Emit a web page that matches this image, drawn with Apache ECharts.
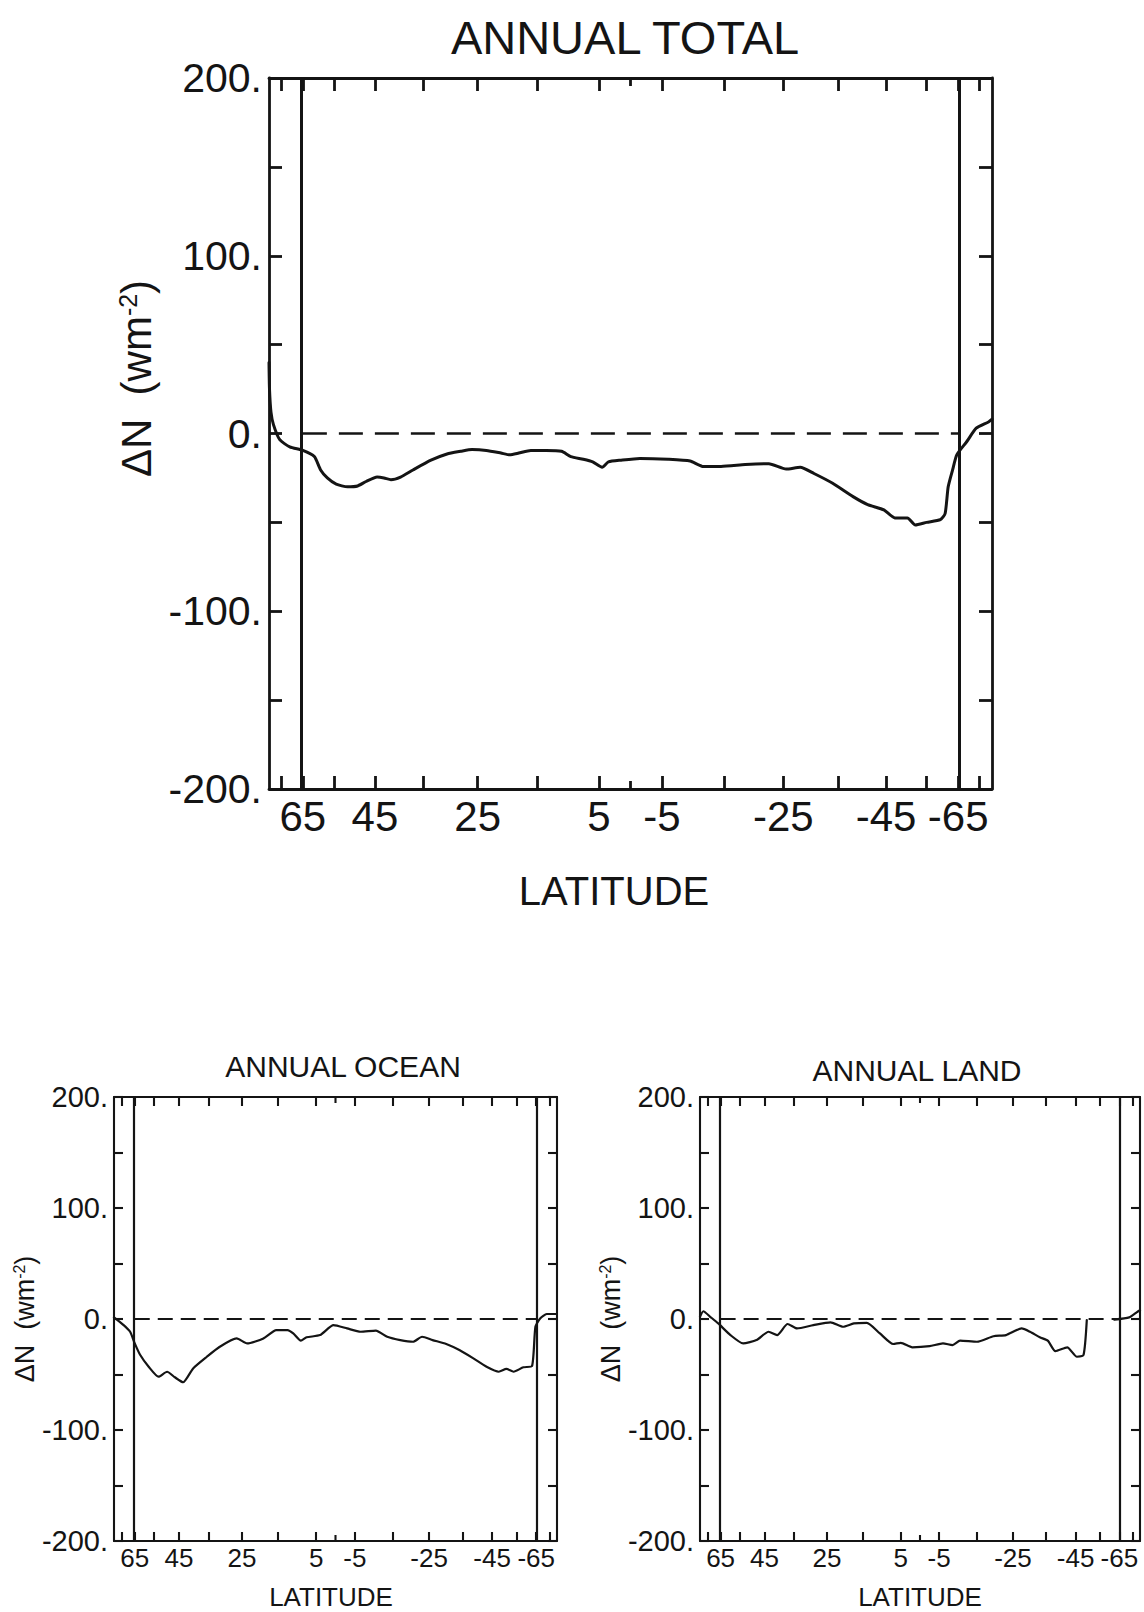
<!DOCTYPE html>
<html>
<head>
<meta charset="utf-8">
<script src="https://cdn.jsdelivr.net/npm/echarts@6/dist/echarts.min.js"></script>
<style>
  html, body { margin: 0; padding: 0; background: #ffffff; }
  #chart { width: 1144px; height: 1612px; }
</style>
</head>
<body>
<div id="chart"></div>
<script>
// Zonal-mean change in net radiation, ΔN (W m-2), plotted against latitude
// on an area-weighted (sine of latitude) axis.

const TOTAL_LAT = [90, 87, 84, 81, 76, 70.5, 65, 61, 59, 57,
  54.5, 51.5, 49, 47, 44.5, 43, 41.5, 39.5, 37, 33.5,
  30.5, 28, 26, 23.5, 21, 19.5, 18, 16, 13.5, 11,
  9.5, 7.5, 6, 4.5, 3.5, 1.5, -1.5, -6, -9.5, -11.5,
  -14.5, -18.5, -22.5, -25.5, -28, -30.5, -34, -38, -41, -44.5,
  -47, -50, -52, -55, -59, -60.5, -61.5, -63, -64.5, -68.5,
  -73, -82, -90];
const TOTAL_DN = [40, 25, 12, 5, -3.5, -7.5, -9.5, -13, -20.5, -25,
  -28.5, -30, -29.5, -27, -24.5, -25, -26, -24.5, -20.5, -15,
  -11.5, -10, -9, -9.5, -11, -12, -11, -9.5, -9.5, -10,
  -13, -14.5, -16, -19, -16, -15, -14, -14.5, -15.5, -18.5,
  -18.5, -17.5, -17, -20, -19, -22.5, -28, -35.5, -40, -43,
  -47.5, -47.5, -51.5, -50, -48.5, -45, -30, -20.5, -12, -4.5,
  3, 6.5, 8];

const OCEAN_LAT = [90, 73, 68, 65, 62, 57.5, 53, 49.5, 46.5, 43.5,
  40, 35.5, 31.5, 26.5, 23.5, 19, 15.5, 12.5, 11, 9,
  7.5, 4, 0.5, -3, -6.5, -10.5, -13.5, -17, -20.5, -23,
  -26, -30, -34, -38.5, -43, -47.5, -50.5, -53.5, -58, -62.5,
  -64.5, -67.5, -72.5, -90];
const OCEAN_DN = [1.5, -5.5, -11.5, -22, -32, -43, -52, -47.5, -52.5, -57,
  -44.5, -34, -25, -17.5, -22, -17.5, -10, -10, -13, -19.5,
  -16.5, -14.5, -5.5, -8.5, -11.5, -10.5, -16, -19, -20.5, -16,
  -19, -22.5, -28, -35.5, -43, -47.5, -45, -47.5, -43.5, -42.5,
  -7, 0.5, 4.5, 4.5];

// null = no land values in that latitude band
const LAND_LAT = [90, 80, 72.5, 66.5, 59.5, 53.5, 48, 43.5, 40.5, 37,
  34, 29, 24, 20.5, 17.5, 14, 10.5, 7, 5, 2,
  -2.5, -6, -8.5, -10.5, -15, -19.5, -23, -27.5, -30, -33,
  -35.5, -38, -42, -45.5, -48, -49.3, -56, -62, -72, -80,
  -90];
const LAND_DN = [2, 7, 2, -4, -14.5, -22, -19, -11.5, -14.5, -4.5,
  -8.5, -5.5, -3, -7, -4, -3.5, -13, -22.5, -21.5, -25.5,
  -24.5, -22, -23.5, -19.5, -20.5, -15.5, -14.5, -8.5, -11.5, -16.5,
  -19.5, -29, -25.5, -34, -32.5, -1, null, -0.5, 1.5, 6,
  8];

// Axis ticks and labels (degrees latitude / W m-2)
const TICK_LATS = [75, 65, 55, 45, 35, 25, 15, 5, -5, -15, -25, -35, -45, -55, -65, -75];
const LABEL_LATS = [65, 45, 25, 5, -5, -25, -45, -65];
const GUIDE_LATS = [65, -65];
const EQUATOR_LAT = 0;
const DN_MIN = -200, DN_MAX = 200, DN_STEP = 50, DN_LABEL_STEP = 100;
const ZERO_LEVEL = 0;

const TITLES = ['ANNUAL TOTAL', 'ANNUAL OCEAN', 'ANNUAL LAND'];
const X_NAME = 'LATITUDE';
const Y_NAME = 'ΔN  (wm{sup|-2})';

const FONT = '"Liberation Sans", Arial, Helvetica, sans-serif';
const INK = '#141414';
const DEG = Math.PI / 180;
const toAxis = lat => Math.sin(lat * DEG);
const toLat = v => Math.round(Math.asin(Math.max(-1, Math.min(1, v))) / DEG);

const SERIES_DATA = [
  { lat: TOTAL_LAT, dn: TOTAL_DN },
  { lat: OCEAN_LAT, dn: OCEAN_DN },
  { lat: LAND_LAT, dn: LAND_DN }
];

// Panel layout and styling
const LAYOUT = [
  { grid: { left: 269, top: 78, width: 723, height: 711 },
    titleX: 620, titleTop: 9, titleSize: 47,
    yTickFont: 41, xTickFont: 42, xNameFont: 40, yNameFont: 42, supFont: 25,
    yLabelMargin: 7, xLabelMargin: 6, xNameGap: 82, xNamePad: 33,
    yNameGap: 110, yNamePad: 110,
    tickLen: 13, eqTickLen: 8, frameW: 2.8, curveW: 3, guideW: 3, dashW: 2.6, dash: [24, 12] },
  { grid: { left: 114, top: 1097, width: 443, height: 444 },
    titleX: 338, titleTop: 1046, titleSize: 30,
    yTickFont: 29, xTickFont: 26, xNameFont: 26, yNameFont: 27, supFont: 16,
    yLabelMargin: 6, xLabelMargin: 4, xNameGap: 43, xNamePad: 9,
    yNameGap: 70, yNamePad: 0,
    tickLen: 9, eqTickLen: 6, frameW: 2.1, curveW: 2.2, guideW: 2.2, dashW: 2, dash: [15, 8] },
  { grid: { left: 700, top: 1097, width: 440, height: 444 },
    titleX: 912, titleTop: 1050, titleSize: 30,
    yTickFont: 29, xTickFont: 26, xNameFont: 26, yNameFont: 27, supFont: 16,
    yLabelMargin: 6, xLabelMargin: 4, xNameGap: 43, xNamePad: 0,
    yNameGap: 74, yNamePad: 0,
    tickLen: 9, eqTickLen: 6, frameW: 2.1, curveW: 2.2, guideW: 2.2, dashW: 2, dash: [15, 8] }
];

const grids = [], xAxes = [], yAxes = [], series = [], titles = [];

LAYOUT.forEach((s, i) => {
  grids.push(Object.assign({ outerBoundsMode: 'none', containLabel: false }, s.grid));

  titles.push({
    text: TITLES[i], left: s.titleX, top: s.titleTop, textAlign: 'center',
    textStyle: { fontFamily: FONT, fontSize: s.titleSize, fontWeight: 'normal', color: INK }
  });

  const frame = { show: true, onZero: false, lineStyle: { color: INK, width: s.frameW } };
  const tick = { show: true, inside: true, length: s.tickLen, lineStyle: { color: INK, width: s.frameW } };

  const xBase = {
    type: 'value', gridIndex: i, min: -1, max: 1, inverse: true,
    splitLine: { show: false }, axisLine: frame,
    axisTick: Object.assign({ customValues: TICK_LATS.map(toAxis) }, tick)
  };
  xAxes.push(Object.assign({}, xBase, {
    position: 'bottom',
    axisLabel: {
      show: true, customValues: LABEL_LATS.map(toAxis), formatter: v => String(toLat(v)),
      margin: s.xLabelMargin, fontFamily: FONT, fontSize: s.xTickFont, color: INK
    },
    name: X_NAME, nameLocation: 'middle', nameGap: s.xNameGap,
    nameTextStyle: { fontFamily: FONT, fontSize: s.xNameFont, color: INK, padding: [0, s.xNamePad, 0, 0] }
  }));
  xAxes.push(Object.assign({}, xBase, { position: 'top', axisLabel: { show: false } }));

  const yBase = {
    type: 'value', gridIndex: i, min: DN_MIN, max: DN_MAX, interval: DN_STEP,
    splitLine: { show: false }, axisLine: frame, axisTick: tick
  };
  yAxes.push(Object.assign({}, yBase, {
    position: 'left',
    axisLabel: {
      show: true, showMinLabel: true, showMaxLabel: true, margin: s.yLabelMargin,
      formatter: v => (v % DN_LABEL_STEP === 0 ? v + '.' : ''),
      fontFamily: FONT, fontSize: s.yTickFont, color: INK
    },
    name: Y_NAME, nameLocation: 'middle', nameRotate: 90, nameGap: s.yNameGap,
    nameTextStyle: {
      fontFamily: FONT, fontSize: s.yNameFont, color: INK, padding: [0, 0, 0, s.yNamePad],
      rich: { sup: { fontFamily: FONT, fontSize: s.supFont, color: INK, verticalAlign: 'top' } }
    }
  }));
  yAxes.push(Object.assign({}, yBase, { position: 'right', axisLabel: { show: false } }));

  const d = SERIES_DATA[i];
  series.push({
    type: 'line', xAxisIndex: 2 * i, yAxisIndex: 2 * i,
    data: d.lat.map((lat, k) => [toAxis(lat), d.dn[k] == null ? '-' : d.dn[k]]),
    showSymbol: false, symbol: 'none', smooth: 0.2, connectNulls: false, silent: true, z: 4,
    lineStyle: { color: INK, width: s.curveW, cap: 'round', join: 'round' },
    markLine: {
      silent: true, symbol: ['none', 'none'], label: { show: false }, animation: false,
      lineStyle: { color: INK, width: s.guideW, type: 'solid' },
      data: GUIDE_LATS.map(lat => ({ xAxis: toAxis(lat) })).concat([[
        { coord: [toAxis(GUIDE_LATS[0]), ZERO_LEVEL], lineStyle: { type: s.dash, width: s.dashW, color: INK } },
        { coord: [toAxis(GUIDE_LATS[1]), ZERO_LEVEL] }
      ]])
    }
  });

  // short equator ticks on the bottom and top frame
  series.push({
    type: 'custom', xAxisIndex: 2 * i, yAxisIndex: 2 * i, silent: true, clip: false, z: 5,
    data: [[toAxis(EQUATOR_LAT), DN_MIN, 1], [toAxis(EQUATOR_LAT), DN_MAX, -1]],
    renderItem: (params, api) => {
      const p = api.coord([api.value(0), api.value(1)]);
      const dir = api.value(2);
      return {
        type: 'line',
        shape: { x1: p[0], y1: p[1], x2: p[0], y2: p[1] - dir * s.eqTickLen },
        style: { stroke: INK, lineWidth: s.frameW }
      };
    }
  });
});

const chart = echarts.init(document.getElementById('chart'), null, { renderer: 'svg', width: 1144, height: 1612 });
chart.setOption({
  backgroundColor: '#ffffff',
  animation: false,
  title: titles,
  grid: grids,
  xAxis: xAxes,
  yAxis: yAxes,
  series: series
});
</script>
</body>
</html>
